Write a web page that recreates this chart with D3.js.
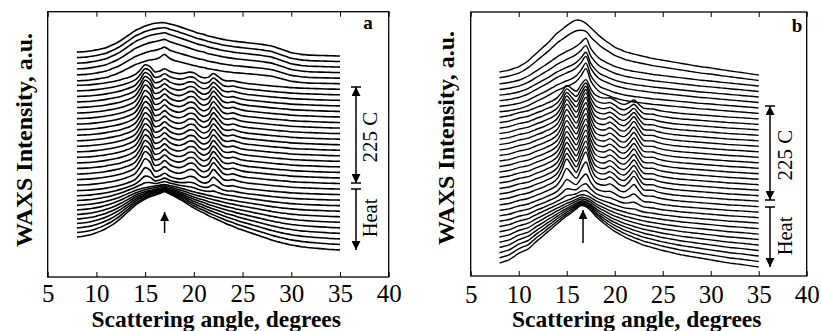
<!DOCTYPE html>
<html>
<head>
<meta charset="utf-8">
<script src="https://cdn.jsdelivr.net/npm/d3@7/dist/d3.min.js"></script>
<style>
  html, body { margin: 0; padding: 0; background: #fff; }
  svg { display: block; }
  text { font-family: "Liberation Serif", "Times New Roman", serif; fill: #000; }
</style>
</head>
<body>
<div id="chart"></div>
<script>
// scattering angle grid (degrees) shared by every curve
const angles = [8, 8.5, 9, 9.5, 10, 10.5, 11, 11.5, 12, 12.5, 13, 13.5, 14, 14.5, 15, 15.5, 16, 16.5, 17, 17.5,
  18, 18.5, 19, 19.5, 20, 20.5, 21, 21.5, 22, 22.5, 23, 23.5, 24, 24.5, 25, 25.5, 26, 26.5, 27, 27.5,
  28, 28.5, 29, 29.5, 30, 30.5, 31, 31.5, 32, 32.5, 33, 33.5, 34, 34.5, 35]

const xTicks = [5, 10, 15, 20, 25, 30, 35, 40]

// ---- panel a profiles (intensity in curve-spacing units, above the curve offset)
const glassA = [2.35, 2.45, 2.6, 2.8, 3.1, 3.45, 3.9, 4.4, 5.0, 5.7, 6.5, 7.3, 8.1, 8.7, 9.2, 9.6, 9.9, 10.2, 10.5, 10.1,
  9.7, 9.2, 8.7, 8.1, 7.6, 7.1, 6.7, 6.2, 5.8, 5.4, 5.0, 4.6, 4.3, 3.9, 3.6, 3.3, 3.0, 2.7, 2.4, 2.1,
  1.8, 1.55, 1.3, 1.1, 0.9, 0.75, 0.6, 0.5, 0.4, 0.32, 0.25, 0.18, 0.1, 0.05, 0]
const meltA = [0.7, 0.75, 0.8, 0.95, 1.1, 1.3, 1.5, 1.9, 2.3, 2.8, 3.4, 4.0, 4.6, 5.0, 5.4, 5.7, 5.9, 6.0, 6.0, 5.8,
  5.6, 5.3, 5.0, 4.7, 4.4, 4.1, 3.9, 3.6, 3.4, 3.2, 3.0, 2.85, 2.7, 2.6, 2.5, 2.4, 2.3, 2.2, 2.1, 1.95,
  1.8, 1.5, 1.2, 0.9, 0.6, 0.45, 0.3, 0.22, 0.15, 0.12, 0.1, 0.07, 0.05, 0.02, 0]
const crystA = [0, 0, 0, 0, 0, 0, 0, 0, 0, 0, 0.05, 0.15, 0.45, 1.6, 3.0, 2.2, 0.3, 0.4, 1.0, 0.4,
  0.1, 0.1, 0.5, 1.2, 1.3, 0.5, 0.1, 0.6, 2.0, 1.2, 0.3, 0.2, 0.45, 0.3, 0.15, 0.1, 0.1, 0.1, 0.1, 0.1,
  0.1, 0.1, 0.1, 0.1, 0.05, 0.05, 0.05, 0.05, 0.05, 0.03, 0.02, 0.01, 0, 0, 0]
const peak17A = [0, 0, 0, 0, 0, 0, 0, 0, 0, 0, 0, 0, 0, 0, 0, 0, 0, 0.3, 1.0, 0.3,
  0, 0, 0, 0, 0, 0, 0, 0, 0, 0, 0, 0, 0, 0, 0, 0, 0, 0, 0, 0,
  0, 0, 0, 0, 0, 0, 0, 0, 0, 0, 0, 0, 0, 0, 0]

// per-curve weights, bottom curve first
const glassWA = [1, 0.92, 0.84, 0.76, 0.68, 0.6, 0.53, 0.46, 0.4, 0.34,
  0.3, 0.3, 0.3, 0.3, 0.3, 0.3, 0.3, 0.3, 0.3, 0.3, 0.3, 0.3, 0.3, 0.3, 0.3, 0.3, 0.3, 0.3, 0.3, 0.3,
  0, 0, 0, 0, 0, 0]
const meltWA = [0, 0, 0, 0, 0, 0, 0, 0, 0, 0, 0, 0, 0, 0, 0, 0, 0, 0, 0, 0, 0, 0, 0, 0, 0, 0, 0, 0, 0, 0,
  0.75, 0.85, 0.95, 1, 1, 1]
const crystWA = [0, 0, 0, 0, 0, 0, 0, 0, 0.15, 0.4, 0.7, 0.9,
  1, 1, 1, 1, 1, 1, 1, 1, 1, 1, 1, 1, 1, 0.95, 0.85, 0.75, 0.65, 0.55,
  0, 0, 0, 0, 0, 0]
const peak17WA = [0, 0, 0, 0, 0, 0, 0, 0, 0, 0, 0, 0, 0, 0, 0, 0, 0, 0, 0, 0, 0, 0, 0, 0, 0, 0, 0, 0, 0, 0,
  0.8, 0.5, 0.3, 0.2, 0.1, 0]

// ---- panel b profiles
const glassB = [0.7, 1.0, 1.3, 1.9, 2.5, 2.9, 3.3, 4.1, 4.9, 5.6, 6.4, 7.1, 7.9, 8.6, 9.3, 9.9, 10.6, 11.2, 11.0, 10.3,
  9.3, 8.5, 7.8, 7.1, 6.5, 6.0, 5.5, 5.1, 4.7, 4.35, 4.0, 3.75, 3.5, 3.25, 3.0, 2.8, 2.6, 2.4, 2.2, 2.05,
  1.9, 1.75, 1.6, 1.45, 1.3, 1.15, 1.0, 0.85, 0.7, 0.6, 0.5, 0.38, 0.25, 0.12, 0]
const meltB = [0.55, 0.7, 0.9, 1.2, 1.5, 2.0, 2.6, 3.4, 4.2, 5.0, 5.8, 6.7, 7.6, 8.3, 9.0, 9.6, 10.0, 9.9, 9.4, 8.6,
  7.8, 7.0, 6.3, 5.7, 5.1, 4.7, 4.3, 4.05, 3.8, 3.6, 3.4, 3.2, 3.0, 2.85, 2.7, 2.55, 2.4, 2.25, 2.1, 1.95,
  1.8, 1.65, 1.5, 1.4, 1.3, 1.15, 1.0, 0.88, 0.75, 0.62, 0.5, 0.38, 0.25, 0.12, 0]
const crystB = [0, 0, 0, 0, 0, 0, 0, 0, 0, 0, 0.05, 0.15, 0.5, 1.8, 3.5, 2.0, 0.5, 2.2, 4.0, 1.6,
  0.3, 0.2, 0.5, 1.2, 0.9, 0.3, 0.3, 1.2, 2.4, 1.3, 0.3, 0.3, 0.4, 0.2, 0.1, 0.05, 0, 0, 0, 0,
  0, 0, 0, 0, 0, 0, 0, 0, 0, 0, 0, 0, 0, 0, 0]
const peak17B = [0, 0, 0, 0, 0, 0, 0, 0, 0, 0, 0, 0, 0, 0, 0, 0, 0.3, 1.2, 2.5, 1.0,
  0.3, 0, 0, 0, 0, 0, 0, 0, 0, 0, 0, 0, 0, 0, 0, 0, 0, 0, 0, 0,
  0, 0, 0, 0, 0, 0, 0, 0, 0, 0, 0, 0, 0, 0, 0]

const glassWB = [1, 0.93, 0.86, 0.79, 0.72, 0.66, 0.6, 0.55, 0.5, 0.47,
  0.45, 0.45, 0.45, 0.45, 0.45, 0.45, 0.45, 0.45, 0.45, 0.45, 0.45, 0.45, 0.45, 0.45, 0.45, 0.45, 0.45, 0.45,
  0, 0, 0, 0, 0, 0, 0, 0]
const meltWB = [0, 0, 0, 0, 0, 0, 0, 0, 0, 0, 0, 0, 0, 0, 0, 0, 0, 0, 0, 0, 0, 0, 0, 0, 0, 0, 0, 0,
  0.55, 0.55, 0.6, 0.6, 0.65, 0.7, 0.9, 1]
const crystWB = [0, 0, 0, 0, 0, 0, 0, 0, 0.1, 0.25, 0.5, 0.8,
  1, 1, 1, 1, 1, 1, 1, 1, 1, 1, 1, 0.95, 0.85, 0.75, 0.65, 0.55,
  0, 0, 0, 0, 0, 0, 0, 0]
const peak17WB = [0, 0, 0, 0, 0, 0, 0, 0, 0, 0, 0, 0, 0, 0, 0, 0, 0, 0, 0, 0, 0, 0, 0, 0, 0, 0, 0, 0,
  1.2, 1.2, 1.1, 1.0, 0.9, 0.85, 0.2, 0]

const panels = [
  {
    label: 'a', profiles: [glassA, meltA, crystA, peak17A], weights: [glassWA, meltWA, crystWA, peak17WA],
    box: { x0: 47.7, x1: 388.7, y0: 11.7, y1: 277 }, yRange: [250, 56], tickPad: 7,
    yTitleX: 24, yTitleY: 140, labelPos: [368, 29],
    markAngle: 17, markY: [233, 212],
    arrowX: 356, holdRange: [87, 183], heatRange: [189, 250], textX: 377, holdTextY: 137, heatTextY: 218,
    stroke: 1.6
  },
  {
    label: 'b', profiles: [glassB, meltB, crystB, peak17B], weights: [glassWB, meltWB, crystWB, peak17WB],
    box: { x0: 470.7, x1: 806.7, y0: 12, y1: 276 }, yRange: [267, 75], tickPad: 9,
    yTitleX: 446, yTitleY: 138, labelPos: [797, 32],
    markAngle: 16.7, markY: [243, 210],
    arrowX: 770, holdRange: [106, 200], heatRange: [207, 267], textX: 792, holdTextY: 155, heatTextY: 236,
    stroke: 1.4
  }
]

const svg = d3.select('#chart').append('svg')
  .attr('width', 821)
  .attr('height', 331)

svg.append('defs').append('marker')
  .attr('id', 'head')
  .attr('viewBox', '0 0 10 10')
  .attr('refX', 10).attr('refY', 5)
  .attr('markerWidth', 9).attr('markerHeight', 9)
  .attr('markerUnits', 'userSpaceOnUse')
  .attr('orient', 'auto-start-reverse')
  .append('path')
  .attr('d', 'M0,0 L10,5 L0,10 Z')
  .attr('fill', '#000')

panels.forEach(p => {
  const g = svg.append('g')
  const b = p.box
  const nCurves = p.weights[0].length

  const x = d3.scaleLinear().domain([5, 40]).range([b.x0, b.x1])
  const y = d3.scaleLinear().domain([0, nCurves - 1]).range(p.yRange)

  // stacked curves
  const line = d3.line()
    .x(d => x(d[0]))
    .y(d => y(d[1]))
    .curve(d3.curveCatmullRom.alpha(0.5))

  d3.range(nCurves).forEach(i => {
    const pts = angles.map((a, j) => {
      let v = i
      p.profiles.forEach((prof, k) => { v += p.weights[k][i] * prof[j] })
      return [a, v]
    })
    g.append('path')
      .datum(pts)
      .attr('d', line)
      .attr('fill', 'none')
      .attr('stroke', '#000')
      .attr('stroke-width', p.stroke)
      .attr('stroke-linejoin', 'round')
  })

  // frame
  g.append('rect')
    .attr('x', b.x0).attr('y', b.y0)
    .attr('width', b.x1 - b.x0).attr('height', b.y1 - b.y0)
    .attr('fill', 'none').attr('stroke', '#000').attr('stroke-width', 1.3)

  // axes, ticks pointing inward
  const bottom = g.append('g')
    .attr('transform', `translate(0,${b.y1})`)
    .call(d3.axisBottom(x).tickValues(xTicks).tickSizeInner(-5).tickSizeOuter(0).tickPadding(p.tickPad))
  bottom.select('.domain').remove()
  bottom.selectAll('text').style('font-size', '25px').attr('fill', '#000')
  bottom.selectAll('line').attr('stroke-width', 1)

  const top = g.append('g')
    .attr('transform', `translate(0,${b.y0})`)
    .call(d3.axisTop(x).tickValues(xTicks).tickSizeInner(-5).tickSizeOuter(0).tickFormat(''))
  top.select('.domain').remove()
  top.selectAll('line').attr('stroke-width', 1)

  // titles
  g.append('text')
    .attr('x', (b.x0 + b.x1) / 2 - 2).attr('y', 327)
    .attr('text-anchor', 'middle')
    .style('font-size', '23.5px').style('font-weight', 'bold')
    .text('Scattering angle, degrees')

  g.append('text')
    .attr('transform', `translate(${p.yTitleX + 8},${p.yTitleY}) rotate(-90)`)
    .attr('text-anchor', 'middle')
    .style('font-size', '24px').style('font-weight', 'bold')
    .text('WAXS Intensity, a.u.')

  g.append('text')
    .attr('x', p.labelPos[0]).attr('y', p.labelPos[1])
    .attr('text-anchor', 'middle')
    .style('font-size', '19px').style('font-weight', 'bold')
    .text(p.label)

  // small arrow marking the 17 degree reflection
  g.append('line')
    .attr('x1', x(p.markAngle)).attr('x2', x(p.markAngle))
    .attr('y1', p.markY[0]).attr('y2', p.markY[1])
    .attr('stroke', '#000').attr('stroke-width', 1.5)
    .attr('marker-end', 'url(#head)')

  // 225 C hold and heating arrows
  const ax = p.arrowX
  g.append('line')
    .attr('x1', ax).attr('x2', ax)
    .attr('y1', p.holdRange[0]).attr('y2', p.holdRange[1])
    .attr('stroke', '#000').attr('stroke-width', 1.5)
    .attr('marker-start', 'url(#head)').attr('marker-end', 'url(#head)')
  g.append('line')
    .attr('x1', ax).attr('x2', ax)
    .attr('y1', p.heatRange[0]).attr('y2', p.heatRange[1])
    .attr('stroke', '#000').attr('stroke-width', 1.5)
    .attr('marker-end', 'url(#head)')
  ;[p.holdRange[0], p.holdRange[1], p.heatRange[0]].forEach(yy => {
    g.append('line')
      .attr('x1', ax - 5).attr('x2', ax + 5)
      .attr('y1', yy).attr('y2', yy)
      .attr('stroke', '#000').attr('stroke-width', 1.5)
  })

  g.append('text')
    .attr('transform', `translate(${p.textX},${p.holdTextY}) rotate(-90)`)
    .attr('text-anchor', 'middle')
    .style('font-size', '21px')
    .text('225 C')
  g.append('text')
    .attr('transform', `translate(${p.textX},${p.heatTextY}) rotate(-90)`)
    .attr('text-anchor', 'middle')
    .style('font-size', '20.5px')
    .text('Heat')
})
</script>
</body>
</html>
